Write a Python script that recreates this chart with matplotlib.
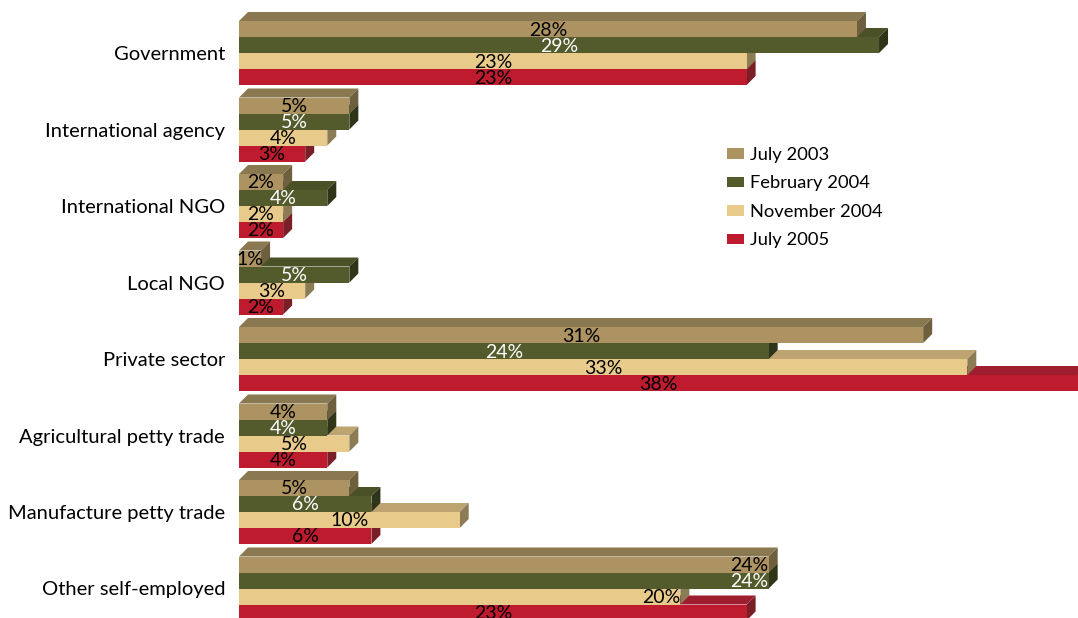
import matplotlib.pyplot as plt
from matplotlib.patches import Polygon, Patch

# data (percent of respondents)
categories = ['Government', 'International agency', 'International NGO', 'Local NGO',
              'Private sector', 'Agricultural petty trade', 'Manufacture petty trade',
              'Other self-employed']
series = ['July 2003', 'February 2004', 'November 2004', 'July 2005']
jul_2003 = [28, 5, 2, 1, 31, 4, 5, 24]
feb_2004 = [29, 5, 4, 5, 24, 4, 6, 24]
nov_2004 = [23, 4, 2, 3, 33, 5, 10, 20]
jul_2005 = [23, 3, 2, 2, 38, 4, 6, 23]
values = [jul_2003, feb_2004, nov_2004, jul_2005]

# front / top / side colours for the fake 3D bars
front = ['#ad9361', '#535a2b', '#e8cb8b', '#be1b2f']
top = ['#8a7850', '#4a5127', '#bda471', '#9e1d2e']
side = ['#6e5f3e', '#2f3519', '#8c7c56', '#7a1f27']
txt_col = ['black', 'white', 'black', 'black']

plt.rcParams['font.family'] = ['Lato', 'DejaVu Sans']

W, H = 1078, 618
fig = plt.figure(figsize=(W / 100, H / 100), dpi=100)
ax = fig.add_axes([0, 0, 1, 1])
px = 22.07              # pixels per percent
x0 = 239                # pixel where bars start
ax.set_xlim(-x0 / px, (W - x0) / px)
ax.set_ylim(H, 0)       # y in pixels from the top
ax.axis('off')

bar_h = 16
dy = 9
dx = 9 / px
first_c, step = 53, 76.5

for i, cat in enumerate(categories):
    c = first_c + step * i
    ax.text(-14 / px, c + 1.5, cat, ha='right', va='center', fontsize=14.5)
    # draw bottom series first so the upper bars cover the top faces below
    for j in range(3, -1, -1):
        v = values[j][i]
        y_top = c - 2 * bar_h + j * bar_h
        y_bot = y_top + bar_h
        z = 10 + (4 - j)
        ax.add_patch(Polygon([(0, y_top), (dx, y_top - dy), (v + dx, y_top - dy), (v, y_top)],
                             closed=True, fc=top[j], ec='none', zorder=z))
        ax.add_patch(Polygon([(v, y_top), (v + dx, y_top - dy), (v + dx, y_bot - dy), (v, y_bot)],
                             closed=True, fc=side[j], ec='none', zorder=z))
        ax.barh(y_top + bar_h / 2, v, height=bar_h, left=0, color=front[j], zorder=z)
        if i == 7 and j < 3:
            lx, ha = v, 'right'
        else:
            lx, ha = v / 2, 'center'
        ax.text(lx, y_top + bar_h / 2 + 1, f'{v}%', ha=ha, va='center', fontsize=14,
                color=txt_col[j], zorder=30)

handles = [Patch(fc=front[j], ec='none') for j in range(4)]
ax.legend(handles, series, loc='upper left', bbox_to_anchor=(727 / W, 1 - 147 / H),
          frameon=False, fontsize=13.2, handlelength=0.95, handleheight=0.5,
          handletextpad=0.3, labelspacing=0.68, borderaxespad=0, borderpad=0)

fig.savefig('out.png', dpi=100)
